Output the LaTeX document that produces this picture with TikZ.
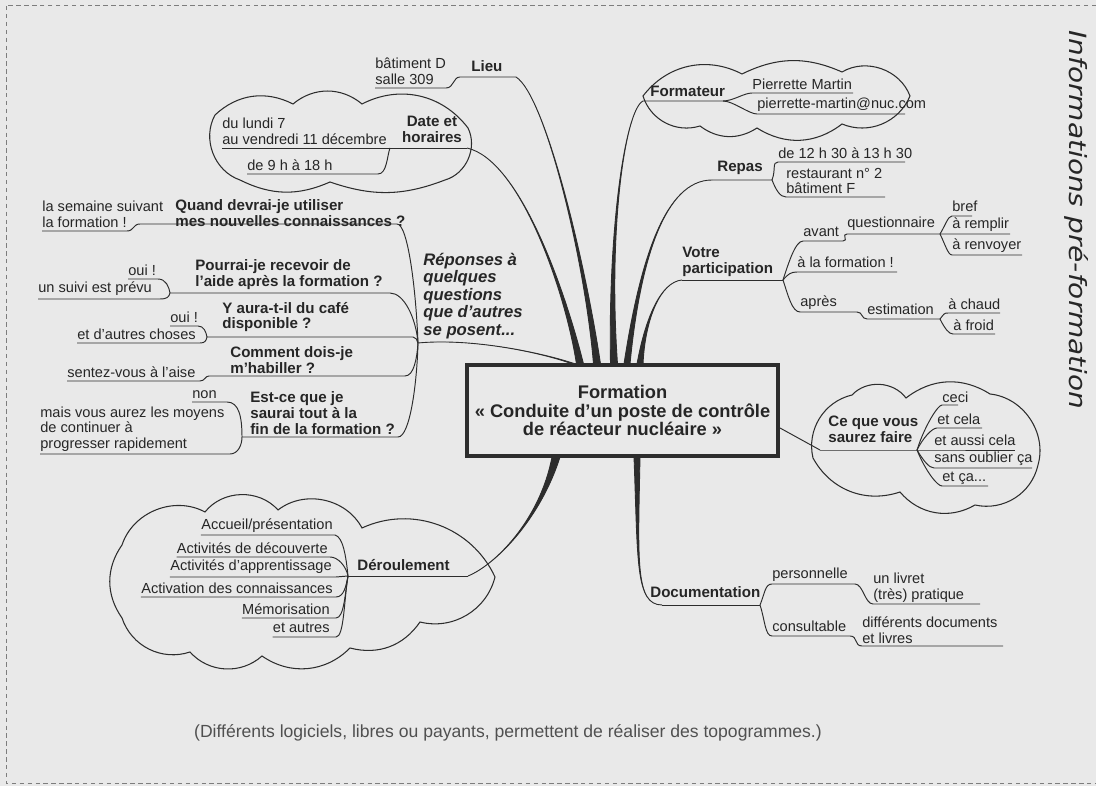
\documentclass[tikz,border=0pt]{standalone}
\usepackage{fontspec}
\usepackage{graphicx}
\setmainfont{Liberation Sans}
\newfontfamily\titrefont{DejaVu Sans}
\usetikzlibrary{calc}

\definecolor{fond}{RGB}{233,233,233}
\definecolor{encre}{RGB}{38,38,38}
\definecolor{trait}{RGB}{45,45,45}
\definecolor{cadre}{RGB}{125,125,125}
\definecolor{gris}{RGB}{80,80,80}

% tapered main branch: start, control 1, control 2, end, half width
\newcommand\branche[5]{%
  \filldraw[trait,line width=0.5pt] ($(#1)+(-#5,0)$) .. controls (#2) and (#3) .. (#4)
    .. controls (#3) and (#2) .. ($(#1)+(#5,0)$) -- cycle;}

\begin{document}
\begin{tikzpicture}[x=0.02cm,y=-0.02cm,
  petit/.style={font=\fontsize{8.3}{8.9}\selectfont,text=encre,inner sep=0pt,align=left},
  gras/.style={font=\fontsize{8.6}{9}\selectfont\bfseries,text=encre,inner sep=0pt,align=left},
  lien/.style={draw=trait,line width=0.55pt},
  nuage/.style={draw=trait,line width=0.6pt}]

% Background and frame
\fill[fond] (0,0) rectangle (1096,786);
\useasboundingbox (0,0) rectangle (1096,786);
\draw[cadre,line width=0.5pt,dash pattern=on 2.5pt off 2pt] (1096,5) -- (6,5) -- (6,783) -- (1096,783);

% Clouds
\draw[nuage] (215,115) to[bend left=35] (293,104) to[bend left=40] (362,104) to[bend left=40] (468,128)
  to[bend left=50] (445,180) to[bend left=20] (330,182) to[bend left=25] (240,180) to[bend left=50] cycle;
\draw[nuage] (643,96) to[bend left=40] (742,74) to[bend left=25] (842,72) to[bend left=50] (910,96)
  to[bend left=45] (842,124) to[bend left=35] (757,128) to[bend left=35] (700,126) to[bend left=45] cycle;
\draw[nuage] (813,458) to[bend left=45] (852,395) to[bend left=50] (906,398) to[bend left=35] (990,394)
  to[bend left=50] (1038,465) to[bend left=45] (975,505) to[bend left=40] (900,492) to[bend left=40] cycle;
\draw[nuage] (122,545) to[bend left=50] (205,512) to[bend left=50] (278,510) to[bend left=50] (362,528)
  to[bend left=45] (495,577) to[bend left=45] (420,622) to[bend left=35] (350,648) to[bend left=40] (262,656)
  to[bend left=45] (190,652) to[bend left=45] (122,618) to[bend left=35] cycle;

% Central topic
\node[draw=trait,line width=2.3pt,minimum width=6.22cm,minimum height=1.82cm,inner sep=0pt,
  align=center,font=\fontsize{10.4}{10.6}\selectfont\bfseries,text=encre] (formation) at (622.5,410.5)
  {Formation\\«~Conduite d'un poste de contrôle\\de réacteur nucléaire~»};

% Main branches
\coordinate (bRep) at (574,364);
\coordinate (bDate) at (580,364);
\coordinate (bLieu) at (597,364);
\coordinate (bForm) at (614,364);
\coordinate (bRepas) at (627,364);
\coordinate (bPart) at (640,364);
\coordinate (bDer) at (556,457);
\coordinate (bDoc) at (637,457);
\coordinate (bSav) at (780,428);

\coordinate (fRep) at (418,343);
\coordinate (fDate) at (467,148);
\coordinate (fLieu) at (516,77);
\coordinate (fForm) at (643,101);
\coordinate (fRepas) at (712,180);
\coordinate (fPart) at (682,280);
\coordinate (fDer) at (468,576);
\coordinate (fDoc) at (662,605);
\coordinate (fSav) at (820,450);

\branche{bRep}{540,352}{470,338}{fRep}{1.5}
\branche{bDate}{565,290}{520,160}{fDate}{3.5}
\branche{bLieu}{585,260}{545,95}{fLieu}{3.5}
\branche{bForm}{608,230}{625,110}{fForm}{3.5}
\branche{bRepas}{640,260}{665,180}{fRepas}{3}
\branche{bPart}{645,320}{660,282}{fPart}{3}
\branche{bDer}{540,520}{495,565}{fDer}{4}
\branche{bDoc}{638,560}{635,605}{fDoc}{3}
\draw[lien] (bSav) -- (fSav);

% Lieu
\node[gras,anchor=west] (lieu) at (471,66) {Lieu};
\node[petit,anchor=west] (salle) at (375,71) {bâtiment D\\salle 309};
\coordinate (jLieu) at (460,77);
\coordinate (jSalle) at (446,88);
\draw[lien] (salle.west |- jSalle) -- (jSalle) .. controls +(8,0) and +(-7,0) .. (jLieu) -- (fLieu);

% Date et horaires
\node[gras,align=center] (date) at (432,129) {Date et\\horaires};
\node[petit,anchor=west] (jours) at (222,131) {du lundi 7\\au vendredi 11 décembre};
\node[petit,anchor=west] (heures) at (247,165) {de 9 h à 18 h};
\coordinate (jDate) at (390,148);
\coordinate (jHeure) at (378,174);
\draw[lien] (jours.west |- fDate) -- (fDate);
\draw[lien] (heures.west |- jHeure) -- (jHeure) .. controls +(9,0) and +(-3,8) .. (jDate);

% Formateur
\node[gras,anchor=west] (formateur) at (650,91) {Formateur};
\node[petit,anchor=west] (nom) at (752,84) {Pierrette Martin};
\node[petit,anchor=west] (mail) at (757,105) {pierrette-martin@nuc.com};
\coordinate (jForm) at (723,101);
\coordinate (jNom) at (853,93);
\coordinate (jMail) at (905,114);
\draw[lien] (fForm) -- (jForm) .. controls +(10,0) and +(-8,0) .. (nom.west |- jNom) -- (jNom);
\draw[lien] (jForm) .. controls +(10,0) and +(-8,0) .. (mail.west |- jMail) -- (jMail);

% Repas
\node[gras,anchor=west] (repas) at (717,168) {Repas};
\node[petit,anchor=west] (horaire) at (778,153) {de 12 h 30 à 13 h 30};
\node[petit,anchor=west] (resto) at (786,181) {restaurant n°~2\\bâtiment F};
\coordinate (jRepas) at (772,180);
\coordinate (jHoraire) at (905,162);
\coordinate (jResto) at (885,197);
\draw[lien] (fRepas) -- (jRepas) .. controls +(4,-10) and +(-6,0) .. (horaire.west |- jHoraire) -- (jHoraire);
\draw[lien] (jRepas) .. controls +(4,10) and +(-6,0) .. (resto.west |- jResto) -- (jResto);

% Votre participation
\node[gras,anchor=west] (part) at (682,262) {Votre\\participation};
\node[petit,anchor=west] (avant) at (803,232) {avant};
\node[petit,anchor=west] (quest) at (847,224) {questionnaire};
\node[petit,anchor=west] (bref) at (952,206) {bref};
\node[petit,anchor=west] (remplir) at (952,225) {à remplir};
\node[petit,anchor=west] (renvoyer) at (952,246) {à renvoyer};
\node[petit,anchor=west] (pendant) at (797,262) {à la formation !};
\node[petit,anchor=west] (apres) at (800,303) {après};
\node[petit,anchor=west] (estim) at (867,309) {estimation};
\node[petit,anchor=west] (chaud) at (948,304) {à chaud};
\node[petit,anchor=west] (froid) at (953,325) {à froid};
\coordinate (jPart) at (783,280);
\coordinate (jAvant) at (843,241);
\coordinate (jQuest) at (940,234);
\coordinate (jBref) at (972,216);
\coordinate (jRemplir) at (1010,234);
\coordinate (jRenvoyer) at (1022,255);
\coordinate (jPendant) at (897,272);
\coordinate (jApres) at (857,312);
\coordinate (jEstim) at (940,319);
\coordinate (jChaud) at (1000,313);
\coordinate (jFroid) at (995,334);
\draw[lien] (fPart) -- (jPart);
\draw[lien] (jPart) .. controls +(5,-15) and +(-8,0) .. (avant.west |- jAvant) -- (jAvant)
  .. controls +(6,0) and +(-6,0) .. (quest.west |- jQuest) -- (jQuest) -- (jRemplir);
\draw[lien] (jQuest) .. controls +(5,-8) and +(-4,0) .. (bref.west |- jBref) -- (jBref);
\draw[lien] (jQuest) .. controls +(5,10) and +(-4,0) .. (renvoyer.west |- jRenvoyer) -- (jRenvoyer);
\draw[lien] (jPart) .. controls +(5,-6) and +(-6,0) .. (pendant.west |- jPendant) -- (jPendant);
\draw[lien] (jPart) .. controls +(5,15) and +(-8,0) .. (apres.west |- jApres) -- (jApres)
  .. controls +(6,0) and +(-6,0) .. (estim.west |- jEstim) -- (jEstim);
\draw[lien] (jEstim) .. controls +(4,-5) and +(-4,0) .. (chaud.west |- jChaud) -- (jChaud);
\draw[lien] (jEstim) .. controls +(5,10) and +(-4,0) .. (froid.west |- jFroid) -- (jFroid);

% Ce que vous saurez faire
\node[gras,anchor=west] (savoir) at (828,429) {Ce que vous\\saurez faire};
\node[petit,anchor=west] (ceci) at (942,397) {ceci};
\node[petit,anchor=west] (cela) at (937,419) {et cela};
\node[petit,anchor=west] (aussi) at (934,440) {et aussi cela};
\node[petit,anchor=west] (oublier) at (934,459) {sans oublier ça};
\node[petit,anchor=west] (etca) at (942,478) {et ça...};
\coordinate (jSav) at (917,450);
\coordinate (jCeci) at (958,405);
\coordinate (jCela) at (982,428);
\coordinate (jAussi) at (1015,450);
\coordinate (jOublier) at (1032,468);
\coordinate (jEtca) at (988,486);
\draw[lien] (fSav) -- (jSav) -- (jAussi);
\draw[lien] (jSav) .. controls +(8,-25) and +(-4,0) .. (ceci.west |- jCeci) -- (jCeci);
\draw[lien] (jSav) .. controls +(6,-12) and +(-5,0) .. (cela.west |- jCela) -- (jCela);
\draw[lien] (jSav) .. controls +(6,10) and +(-5,0) .. (oublier.west |- jOublier) -- (jOublier);
\draw[lien] (jSav) .. controls +(8,20) and +(-5,0) .. (etca.west |- jEtca) -- (jEtca);

% Documentation
\node[gras,anchor=west] (doc) at (650,592) {Documentation};
\node[petit,anchor=west] (perso) at (772,575) {personnelle};
\node[petit,anchor=west] (livret) at (873,588) {un livret\\(très) pratique};
\node[petit,anchor=west] (consult) at (772,626) {consultable};
\node[petit,anchor=west] (docs) at (862,630) {différents documents\\et livres};
\coordinate (jDoc) at (760,605);
\coordinate (jPerso) at (855,584);
\coordinate (jLivret) at (980,604);
\coordinate (jConsult) at (850,636);
\coordinate (jDocs) at (1003,646);
\draw[lien] (fDoc) -- (jDoc);
\draw[lien] (jDoc) .. controls +(5,-12) and +(-7,0) .. (perso.west |- jPerso) -- (jPerso)
  .. controls +(8,0) and +(-8,0) .. (livret.west |- jLivret) -- (jLivret);
\draw[lien] (jDoc) .. controls +(5,15) and +(-7,0) .. (consult.west |- jConsult) -- (jConsult)
  .. controls +(8,0) and +(-8,0) .. (docs.west |- jDocs) -- (jDocs);

% Deroulement
\node[gras,anchor=west] (deroul) at (357,565) {Déroulement};
\node[petit,anchor=east] (accueil) at (333,526) {Accueil/présentation};
\node[petit,anchor=east] (decouv) at (328,548) {Activités de découverte};
\node[petit,anchor=east] (appr) at (332,567) {Activités d'apprentissage};
\node[petit,anchor=east] (activ) at (333,588) {Activation des connaissances};
\node[petit,anchor=east] (memo) at (330,609) {Mémorisation};
\node[petit,anchor=east] (autres) at (330,628) {et autres};
\coordinate (jDer) at (348,576);
\coordinate (jAccueil) at (335,535);
\coordinate (jDecouv) at (330,557);
\coordinate (jAppr) at (336,577);
\coordinate (jActiv) at (336,597);
\coordinate (jMemo) at (336,618);
\coordinate (jAutres) at (336,637);
\draw[lien] (jDer) -- (fDer);
\draw[lien] (accueil.west |- jAccueil) -- (jAccueil) .. controls +(8,2) and +(-2,-20) .. (jDer);
\draw[lien] (decouv.west |- jDecouv) -- (jDecouv) .. controls +(8,0) and +(-2,-10) .. (jDer);
\draw[lien] (appr.west |- jAppr) -- (jAppr) -- (jDer);
\draw[lien] (activ.west |- jActiv) -- (jActiv) .. controls +(8,0) and +(-2,10) .. (jDer);
\draw[lien] (memo.west |- jMemo) -- (jMemo) .. controls +(8,0) and +(-3,18) .. (jDer);
\draw[lien] (autres.west |- jAutres) -- (jAutres) .. controls +(8,0) and +(-4,25) .. (jDer);

% Questions
\node[gras,anchor=west,font=\fontsize{9.5}{10}\selectfont\bfseries\itshape] (rep) at (423,296)
  {Réponses à\\quelques\\questions\\que d'autres\\se posent...};
\node[gras,anchor=west] (q1) at (175,213) {Quand devrai-je utiliser\\mes nouvelles connaissances ?};
\node[petit,anchor=west] (r1) at (42,214) {la semaine suivant\\la formation !};
\node[gras,anchor=west] (q2) at (195,275) {Pourrai-je recevoir de\\l'aide après la formation ?};
\node[petit,anchor=west] (r2a) at (128,270) {oui !};
\node[petit,anchor=west] (r2b) at (38,289) {un suivi est prévu};
\node[gras,anchor=west] (q3) at (222,317) {Y aura-t-il du café\\disponible ?};
\node[petit,anchor=west] (r3a) at (170,317) {oui !};
\node[petit,anchor=west] (r3b) at (77,334) {et d'autres choses};
\node[gras,anchor=west] (q4) at (230,360) {Comment dois-je\\m'habiller ?};
\node[petit,anchor=west] (r4) at (67,372) {sentez-vous à l'aise};
\node[gras,anchor=west] (q5) at (250,413) {Est-ce que je\\saurai tout à la\\fin de la formation ?};
\node[petit,anchor=west] (r5a) at (192,395) {non};
\node[petit,anchor=west] (r5b) at (40,429) {mais vous aurez les moyens\\de continuer à\\progresser rapidement};
\coordinate (jR1) at (127,231);
\coordinate (sQ1) at (140,224);
\coordinate (jQ1) at (397,224);
\coordinate (jR2a) at (158,279);
\coordinate (jR2b) at (160,299);
\coordinate (sQ2) at (170,293);
\coordinate (jQ2) at (390,293);
\coordinate (jR3a) at (198,326);
\coordinate (jR3b) at (200,343);
\coordinate (sQ3) at (207,337);
\coordinate (jQ3) at (413,337);
\coordinate (jR4) at (200,381);
\coordinate (sQ4) at (209,376);
\coordinate (jQ4) at (405,376);
\coordinate (jR5a) at (227,402);
\coordinate (jR5b) at (230,454);
\coordinate (sQ5) at (242,437);
\coordinate (jQ5) at (398,437);
\draw[lien] (r1.west |- jR1) -- (jR1) .. controls +(7,0) and +(-7,0) .. (sQ1) -- (jQ1)
  .. controls +(11,0) and +(-2,-53) .. (fRep);
\draw[lien] (r2a.west |- jR2a) -- (jR2a) .. controls +(8,0) and +(-1,-6) .. (sQ2) -- (jQ2)
  .. controls +(14,0) and +(-2,-25) .. (fRep);
\draw[lien] (r2b.west |- jR2b) -- (jR2b) .. controls +(7,0) and +(-1,4) .. (sQ2);
\draw[lien] (r3a.west |- jR3a) -- (jR3a) .. controls +(6,0) and +(-1,-5) .. (sQ3) -- (jQ3)
  .. controls +(3,0) and +(-1,-3) .. (fRep);
\draw[lien] (r3b.west |- jR3b) -- (jR3b) .. controls +(5,0) and +(-1,4) .. (sQ3);
\draw[lien] (r4.west |- jR4) -- (jR4) .. controls +(5,0) and +(-4,0) .. (sQ4) -- (jQ4)
  .. controls +(9,0) and +(-1,15) .. (fRep);
\draw[lien] (r5a.west |- jR5a) -- (jR5a) .. controls +(12,0) and +(0,-20) .. (sQ5) -- (jQ5)
  .. controls +(12,0) and +(-1,40) .. (fRep);
\draw[lien] (r5b.west |- jR5b) -- (jR5b) .. controls +(8,0) and +(0,8) .. (sQ5);

% Side title and caption
\node[rotate=-90,text=encre,inner sep=0pt] (titre) at (1077,220)
  {\titrefont\itshape\fontsize{13.5}{16}\selectfont\scalebox{1.18}[1]{Informations pré-formation}};
\node[text=gris,font=\fontsize{10}{12}\selectfont,inner sep=0pt] (legende) at (508,733)
  {(Différents logiciels, libres ou payants, permettent de réaliser des topogrammes.)};
\end{tikzpicture}
\end{document}
